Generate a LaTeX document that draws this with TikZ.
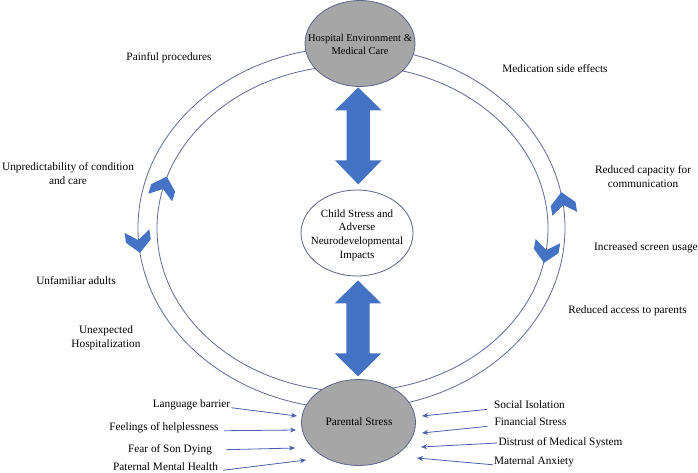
\documentclass[tikz,border=0pt]{standalone}
\usepackage{fontspec}
\setmainfont{Liberation Serif}
\usetikzlibrary{shapes.geometric,arrows.meta,calc}
\definecolor{cblue}{HTML}{4472C4}
\definecolor{ringc}{RGB}{95,105,155}
\definecolor{grayf}{HTML}{A6A6A6}
\definecolor{edgec}{RGB}{90,100,140}
\definecolor{arrc}{RGB}{75,95,175}
\tikzset{
  ring/.style={draw=ringc, line width=0.8pt},
  gell/.style={ellipse, draw=edgec, fill=grayf, line width=0.8pt, inner sep=0pt},
  well/.style={ellipse, draw=edgec, fill=white, line width=0.8pt, inner sep=0pt},
  lbl/.style={font=\fontsize{11.3}{14}\selectfont, inner sep=1pt, text height=8pt, text depth=2.5pt},
  mlbl/.style={font=\fontsize{11.3}{14}\selectfont, inner sep=1pt, align=center},
  sarrow/.style={draw=arrc, line width=0.8pt, -{Stealth[length=6pt,width=5pt]}},
  chevdn/.pic={\fill[cblue] (-12.5,-11) -- (0,-2) -- (12.5,-11) -- (12.5,-1) -- (0,11) -- (-12.5,-1) -- cycle;},
  chevup/.pic={\fill[cblue] (-12.5,11) -- (0,2) -- (12.5,11) -- (12.5,1) -- (0,-11) -- (-12.5,1) -- cycle;}
}
\begin{document}
\begin{tikzpicture}[x=1pt,y=-1pt]
\useasboundingbox (0,0) rectangle (698,472);
\fill[white] (0,0) rectangle (698,472);
% rings
\draw[ring] (351.5,228) ellipse [x radius=213.5pt, y radius=181pt];
\draw[ring] (352.5,228.5) ellipse [x radius=195.5pt, y radius=163pt];
% main ellipses
\node[gell, minimum width=110pt, minimum height=86pt] (hosp) at (360,43.5) {};
\node[well, minimum width=112pt, minimum height=86pt] (child) at (357,233) {};
\node[gell, minimum width=114pt, minimum height=86pt] (parent) at (358.5,422.5) {};
\node[font=\fontsize{10.5}{13}\selectfont, align=center, inner sep=0pt] (hospt) at (360,44.5) {Hospital Environment \&\\Medical Care};
\node[mlbl, font=\fontsize{11}{13.7}\selectfont] (childt) at (357,235) {Child Stress and\\Adverse\\Neurodevelopmental\\Impacts};
\node[lbl] (parentt) at (359,423) {Parental Stress};
% chevrons
\pic[rotate=8] at (138.5,242) {chevdn};
\pic[rotate=-17.5] at (163.5,187) {chevup};
\pic[rotate=9] at (563,203) {chevup};
\pic[rotate=-10] at (546,252) {chevdn};
% big double arrows
\fill[cblue] ($(hosp.south)+(-1.7,0.5)$) -- ++(23.3,23) -- ++(-11.7,0) -- ++(0,50) -- ++(11.7,0)
  -- ++(-23.3,24) -- ++(-23.3,-24) -- ++(11.7,0) -- ++(0,-50) -- ++(-11.7,0) -- cycle;
\fill[cblue] ($(child.south)+(1,4)$) -- ++(23.3,23) -- ++(-11.7,0) -- ++(0,50) -- ++(11.7,0)
  -- ++(-23.3,23) -- ++(-23.3,-23) -- ++(11.7,0) -- ++(0,-50) -- ++(-11.7,0) -- cycle;
% labels around ring
\node[lbl] (painful) at (169,58) {Painful procedures};
\node[lbl] (medside) at (555,70) {Medication side effects};
\node[mlbl] (unpred) at (68,174) {Unpredictability of condition\\and care};
\node[lbl] (unfam) at (76,282) {Unfamiliar adults};
\node[mlbl] (unexp) at (106,337.5) {Unexpected\\Hospitalization};
\node[mlbl] (redcap) at (643,177) {Reduced capacity for\\communication};
\node[lbl, anchor=west] (screen) at (593,248) {Increased screen usage};
\node[lbl] (redacc) at (627.5,311) {Reduced access to parents};
% parental stress inputs (left)
\node[lbl] (lb) at (191.5,405) {Language barrier};
\node[lbl] (fh) at (164,428) {Feelings of helplessness};
\node[lbl] (fs) at (170,450) {Fear of Son Dying};
\node[lbl] (pm) at (165.5,468) {Paternal Mental Health};
\coordinate (lbE) at (297,416);
\coordinate (fhE) at (296,430);
\coordinate (fsE) at (295,448);
\coordinate (pmE) at (306,460);
\draw[sarrow] (lb.base east) -- (lbE);
\draw[sarrow, shorten <=4pt] (fh.base east) -- (fhE);
\draw[sarrow, shorten <=13pt] (fs.east) -- (fsE);
\draw[sarrow, shorten <=4pt] (pm.base east) -- (pmE);
% parental stress inputs (right)
\node[lbl] (si) at (529.5,406) {Social Isolation};
\node[lbl] (fin) at (530.5,423) {Financial Stress};
\node[lbl] (dis) at (560.5,443) {Distrust of Medical System};
\node[lbl] (ma) at (534,462) {Maternal Anxiety};
\coordinate (siE) at (422,416);
\coordinate (finE) at (422,433);
\coordinate (disE) at (421,447);
\coordinate (maE) at (417,458);
\draw[sarrow, shorten <=6pt] (si.base west) -- (siE);
\draw[sarrow, shorten <=6pt] (fin.base west) -- (finE);
\draw[sarrow] (dis.west) -- (disE);
\draw[sarrow] (ma.base west) -- (maE);
\end{tikzpicture}
\end{document}
